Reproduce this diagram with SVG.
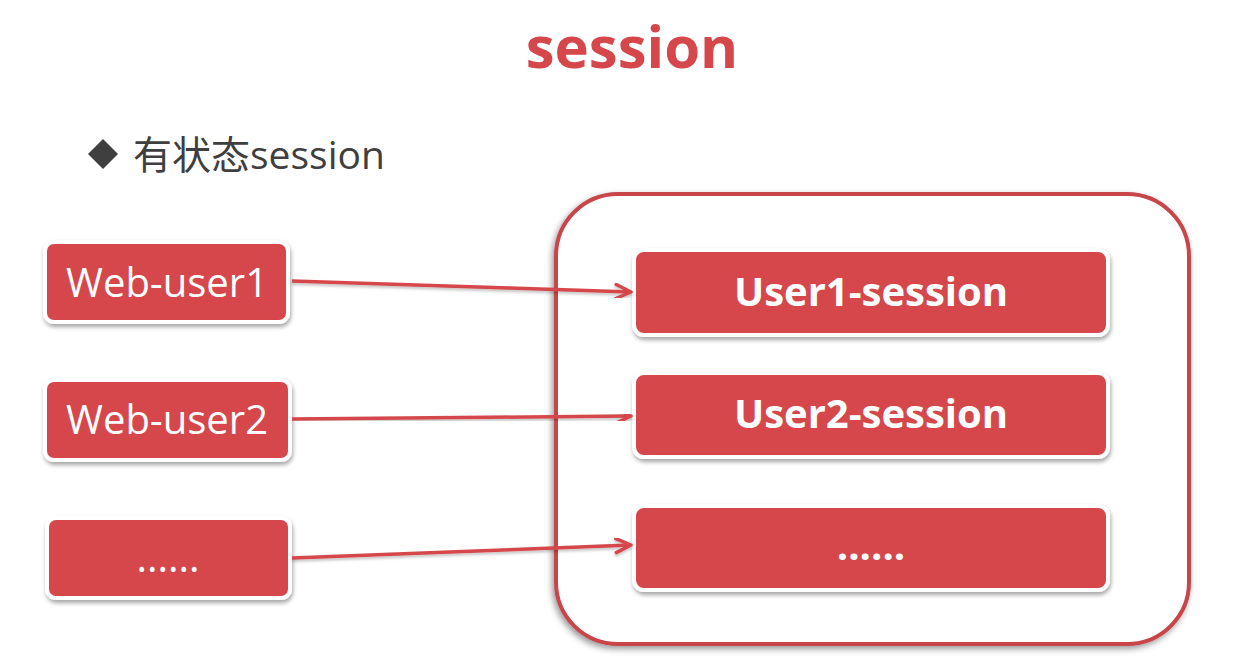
<svg xmlns="http://www.w3.org/2000/svg" width="1239" height="667" viewBox="0 0 1239 667">
<style>
.box{fill:#D5474B;stroke:#fff;stroke-width:4;filter:url(#sh)}
.lt{font-family:"Open Sans","Liberation Sans",sans-serif;font-size:40px;fill:#fff;text-anchor:middle}
.rt{font-family:"Open Sans","Liberation Sans",sans-serif;font-size:40px;font-weight:bold;fill:#fff;text-anchor:middle}
.conn{stroke:#D5474B;stroke-width:3.5;fill:none;marker-end:url(#ah);filter:url(#sh2)}
</style>
<defs>
<filter id="sh" x="-10%" y="-20%" width="120%" height="150%">
<feDropShadow dx="1" dy="3" stdDeviation="2" flood-color="#000" flood-opacity="0.35"/>
</filter>
<filter id="sh2" x="-5%" y="-50%" width="110%" height="200%">
<feDropShadow dx="0" dy="2" stdDeviation="1.5" flood-color="#000" flood-opacity="0.25"/>
</filter>
<filter id="sh3" x="-5%" y="-5%" width="110%" height="110%">
<feDropShadow dx="-2" dy="3" stdDeviation="3" flood-color="#000" flood-opacity="0.4"/>
</filter>
<marker id="ah" markerWidth="20" markerHeight="20" refX="17" refY="9" orient="auto" markerUnits="userSpaceOnUse">
<path d="M2,2 L17,9 L2,16" fill="none" stroke="#D5474B" stroke-width="3.5" stroke-linecap="round" stroke-linejoin="round"/>
</marker>
</defs>
<rect width="1239" height="667" fill="#fff"/>
<text x="632" y="68" font-family="'Open Sans','Liberation Sans',sans-serif" font-size="58" font-weight="bold" fill="#D5474B" text-anchor="middle">session</text>
<g id="bullet">
<path d="M103,139 L118,154 L103,169 L88,154 Z" fill="#3F3F3F"/>
<text x="133" y="169" font-family="'Open Sans','Noto Sans CJK SC',sans-serif" font-size="39" fill="#3F3F3F">有状态session</text>
</g>
<g id="container">
<rect x="556" y="194" width="633" height="450" rx="62" fill="#fff" stroke="#C8444A" stroke-width="4" filter="url(#sh3)"/>
</g>
<g id="web-user1"><rect class="box" x="45" y="242" width="243" height="80" rx="9"/><text class="lt" x="167" y="297">Web-user1</text></g>
<g id="web-user2"><rect class="box" x="45" y="380" width="245" height="80" rx="9"/><text class="lt" x="167" y="434">Web-user2</text></g>
<g id="web-user-more"><rect class="box" x="47" y="518" width="243" height="80" rx="9"/><text class="lt" x="168" y="572" font-size="26">......</text></g>
<g id="user1-session"><rect class="box" x="634" y="250" width="474" height="85" rx="10"/><text class="rt" x="871" y="306">User1-session</text></g>
<g id="user2-session"><rect class="box" x="634" y="373" width="474" height="84" rx="10"/><text class="rt" x="871" y="428">User2-session</text></g>
<g id="user-session-more"><rect class="box" x="634" y="506" width="474" height="84" rx="10"/><text class="rt" x="871" y="560" font-size="30">......</text></g>
<g id="connectors">
<line class="conn" x1="292" y1="281" x2="631" y2="292"/>
<line class="conn" x1="292" y1="419" x2="631" y2="416"/>
<line class="conn" x1="292" y1="558" x2="631" y2="545"/>
</g>
</svg>
